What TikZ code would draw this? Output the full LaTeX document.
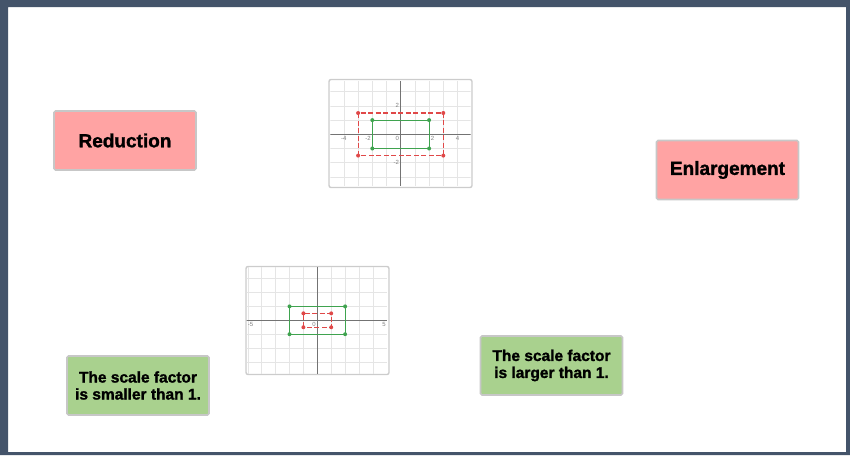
\documentclass[tikz,border=0pt]{standalone}
\usepackage{fontspec}
\setmainfont{Liberation Sans}[BoldFeatures={FakeBold=1.4}]
\usetikzlibrary{positioning}
\definecolor{framecol}{HTML}{44546A}
\definecolor{pinkfill}{HTML}{FFA3A3}
\definecolor{greenfill}{HTML}{A9D18E}
\definecolor{ptred}{HTML}{E04848}
\definecolor{ptgreen}{HTML}{3FA34F}

\begin{document}
\begin{tikzpicture}[
  x=1pt,y=-1pt,
  box/.style={draw=black!22,line width=1.6pt,rounded corners=1.5pt,minimum width=142pt,minimum height=59pt,align=center,inner sep=0pt},
  term/.style={box,fill=pinkfill,font=\fontsize{19}{22}\selectfont\bfseries},
  fact/.style={box,fill=greenfill,font=\fontsize{15.5}{17}\selectfont\bfseries},
  graphbox/.style={draw=black!20,line width=1.4pt,rounded corners=2pt,fill=white,minimum width=143pt,minimum height=108pt,inner sep=0pt},
  gridline/.style={black!10,line width=0.6pt},
  axisline/.style={black!55,line width=0.9pt},
  ticklabel/.style={black!50,font=\fontsize{6}{6}\selectfont,inner sep=1.5pt},
  imgline/.style={draw=ptred,line width=1.1pt,dash pattern=on 5pt off 2.5pt},
  objline/.style={draw=ptgreen,line width=1pt},
  dot/.style={circle,fill,inner sep=0pt,minimum size=4pt}
]
\useasboundingbox (0,0) rectangle (850,455);
\fill[framecol,even odd rule] (0,0) rectangle (850,455) (8,7) rectangle (846,452);
% ---- names ----
\node[term] (red) at (125,140.5) {Reduction};
\node[term] (enl) at (727.5,170) {Enlargement};
\node[fact] (less) at (138,385.5) {The scale factor\\is smaller than 1.};
\node[fact] (more) at (551.5,365.5) {The scale factor\\is larger than 1.};
% ---- enlargement graph ----
\node[graphbox] (g1) at (400.5,133.5) {};
\begin{scope}[shift={(400.7,134.3)},x=14.2pt,y=14.2pt]
\begin{scope}
\clip (-4.95,-3.6) rectangle (4.92,3.72);
\draw[gridline,step={(1,1)}] (-6,-5) grid (6,5);
\draw[axisline] (-6,0) -- (6,0);
\draw[axisline] (0,-5) -- (0,5);
\end{scope}
\draw[imgline] (-3,-1.5) rectangle (3,1.5);
\draw[objline] (-2,-1) rectangle (2,1);
\foreach \p in {(-3,-1.5),(3,-1.5),(3,1.5),(-3,1.5)} \node[dot,fill=ptred] at \p {};
\foreach \p in {(-2,-1),(2,-1),(2,1),(-2,1)} \node[dot,fill=ptgreen] at \p {};
\node[ticklabel,below left] at (0,0) {0};
\node[ticklabel,below] at (-4,0) {-4};
\node[ticklabel,below] at (4,0) {4};
\node[ticklabel,below left] at (-2,0) {-2};
\node[ticklabel,below right] at (2,0) {2};
\node[ticklabel,left] at (0,2) {2};
\node[ticklabel,left] at (0,-2) {-2};
\end{scope}
% ---- reduction graph ----
\node[graphbox] (g2) at (317.5,320.5) {};
\begin{scope}[shift={(317.3,320.3)},x=13.9pt,y=13.9pt]
\begin{scope}
\clip (-5.08,-3.82) rectangle (5.0,3.8);
\draw[gridline,step={(1,1)}] (-6,-5) grid (6,5);
\draw[axisline] (-6,0) -- (6,0);
\draw[axisline] (0,-5) -- (0,5);
\end{scope}
\draw[objline] (-2,-1) rectangle (2,1);
\draw[imgline] (-1,-0.5) rectangle (1,0.5);
\foreach \p in {(-2,-1),(2,-1),(2,1),(-2,1)} \node[dot,fill=ptgreen] at \p {};
\foreach \p in {(-1,-0.5),(1,-0.5),(1,0.5),(-1,0.5)} \node[dot,fill=ptred] at \p {};
\node[ticklabel,below left] at (0,0) {0};
\node[ticklabel,below] at (-4.8,0) {-5};
\node[ticklabel,below] at (4.8,0) {5};
\end{scope}
\end{tikzpicture}
\end{document}
